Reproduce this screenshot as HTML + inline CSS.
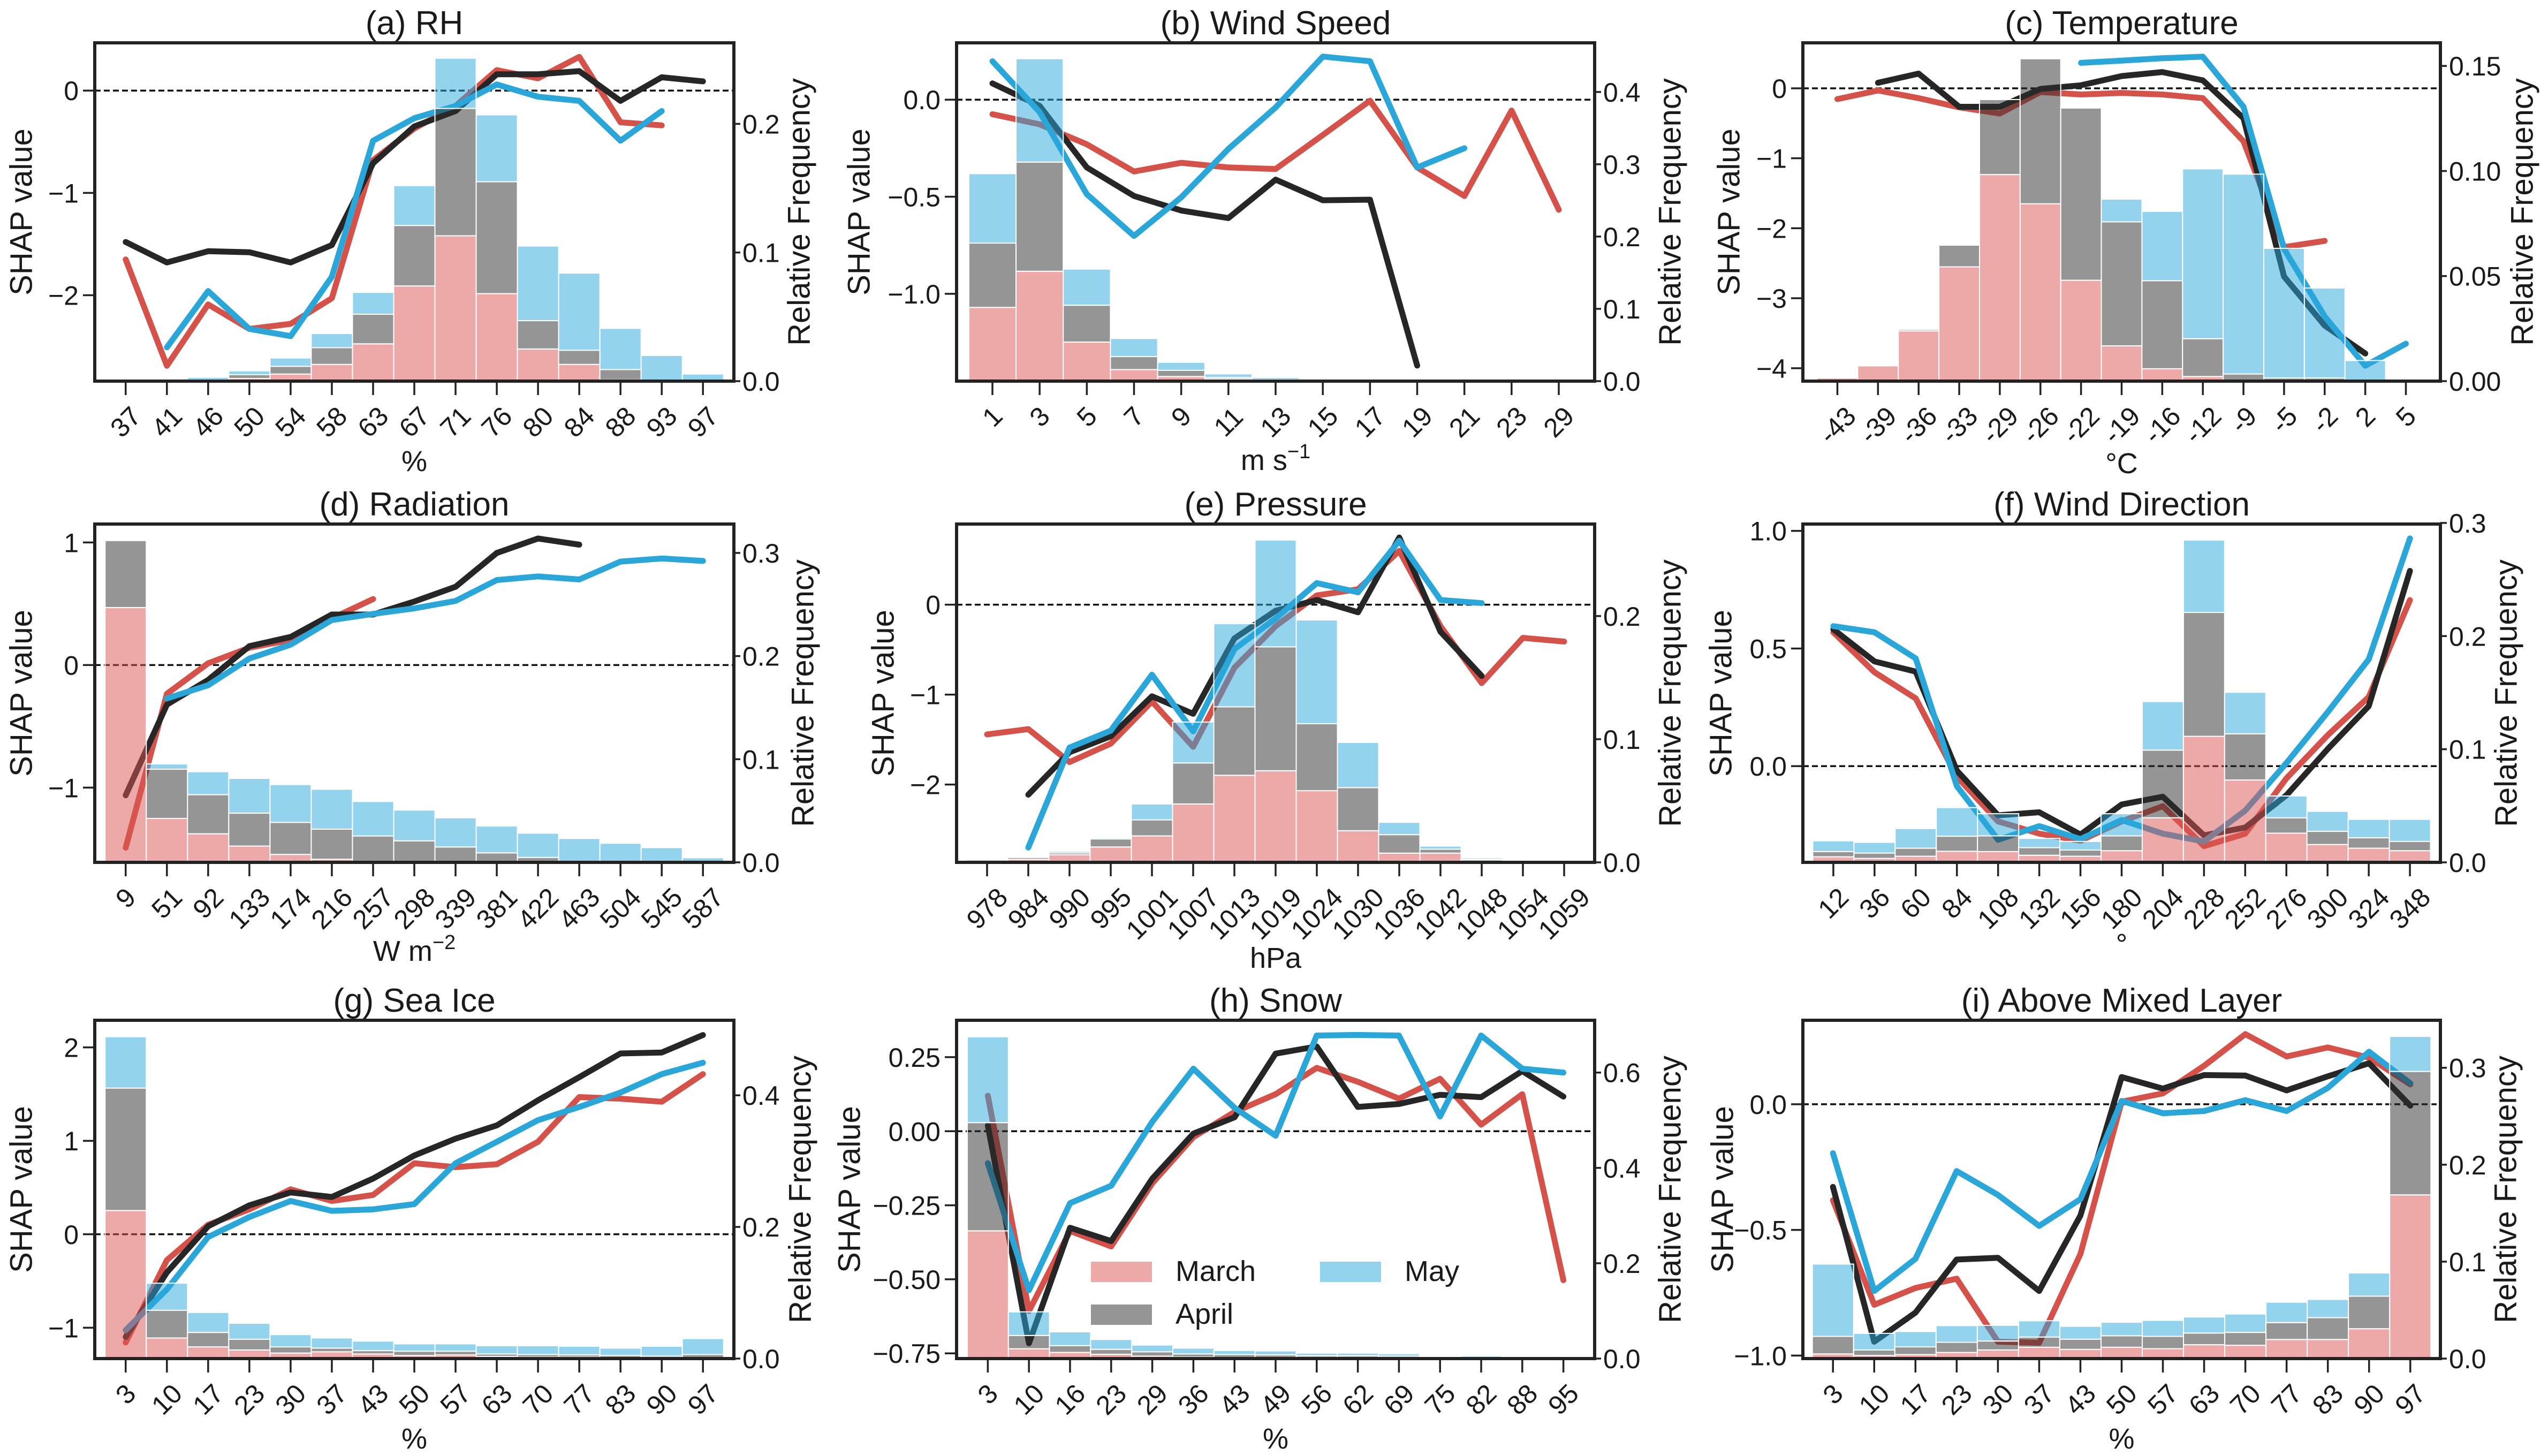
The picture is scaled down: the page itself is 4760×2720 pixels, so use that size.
<!DOCTYPE html>
<html><head><meta charset="utf-8">
<style>
html,body{margin:0;padding:0;background:#fff;}
svg{display:block;}
text{font-family:"Liberation Sans",Arial,sans-serif;fill:#1a1a1a;}
</style></head>
<body>
<svg id="fig" xmlns="http://www.w3.org/2000/svg" width="4760" height="2720" viewBox="0 0 4760 2720">
<rect x="0" y="0" width="4760" height="2720" fill="#fff"/>
</svg>
<script>
// ---------- (a) RH ----------
const aCats=["37","41","46","50","54","58","63","67","71","76","80","84","88","93","97"];
const aMar=[-1.65,-2.69,-2.09,-2.33,-2.28,-2.03,-0.68,-0.37,-0.15,0.2,0.12,0.33,-0.31,-0.34,null];
const aApr=[-1.48,-1.68,-1.57,-1.58,-1.68,-1.51,-0.71,-0.35,-0.2,0.16,0.16,0.19,-0.1,0.13,0.09];
const aMay=[null,-2.51,-1.96,-2.33,-2.40,-1.82,-0.49,-0.27,-0.15,0.06,-0.06,-0.1,-0.49,-0.2,null];
const aMarF=[0,0,0.001,0.002,0.0055,0.013,0.029,0.074,0.113,0.068,0.025,0.013,0.001,0,0];
const aAprF=[0,0,0.0005,0.005,0.0115,0.026,0.052,0.121,0.212,0.155,0.047,0.024,0.009,0.0005,0];
const aMayF=[0,0.001,0.003,0.008,0.018,0.037,0.069,0.152,0.251,0.207,0.105,0.084,0.041,0.020,0.0055];
const aYT=[-2,-1,0]; const aFT=[0,0.1,0.2];
// ---------- (b) Wind Speed ----------
const bCats=["1","3","5","7","9","11","13","15","17","19","21","23","29"];
const bMar=[-0.075,-0.127,-0.23,-0.37,-0.325,-0.349,-0.357,-0.182,-0.005,-0.349,-0.496,-0.056,-0.567];
const bApr=[0.084,-0.032,-0.349,-0.496,-0.571,-0.61,-0.412,-0.518,-0.515,-1.37,null,null,null];
const bMay=[0.198,-0.064,-0.487,-0.702,-0.503,-0.254,-0.04,0.222,0.198,-0.349,-0.25,null,null];
const bMarF=[0.102,0.152,0.054,0.016,0.0064,0.003,0,0,0,0,0,0,0];
const bAprF=[0.191,0.303,0.105,0.034,0.015,0.005,0.002,0,0,0,0,0,0];
const bMayF=[0.287,0.446,0.155,0.059,0.026,0.010,0.005,0.002,0.0005,0,0,0,0];
const bYT=[-1.0,-0.5,0.0]; const bFT=[0,0.1,0.2,0.3,0.4];
// ---------- (c) Temperature ----------
const cCats=["-43","-39","-36","-33","-29","-26","-22","-19","-16","-12","-9","-5","-2","2","5"];
const cMar=[-0.154,-0.031,-0.14,-0.273,-0.36,-0.053,-0.088,-0.066,-0.088,-0.141,-0.757,-2.27,-2.18,null,null];
const cApr=[null,0.079,0.21,-0.264,-0.264,-0.009,0.043,0.175,0.232,0.114,-0.427,-2.69,-3.39,-3.79,null];
const cMay=[null,null,null,null,null,null,0.364,0.395,0.43,0.452,-0.264,-2.295,-3.26,-3.965,-3.65];
const cMarF=[0.0015,0.0073,0.0239,0.0544,0.0983,0.0844,0.048,0.0168,0.0059,0.0022,0.0005,0,0,0,0];
const cAprF=[0,0.0078,0.0246,0.0647,0.134,0.1534,0.130,0.0758,0.0478,0.0202,0.0034,0.0015,0.0015,0,0];
const cMayF=[0,0,0,0,0,0,0.1305,0.0866,0.0808,0.101,0.0985,0.0632,0.0443,0.0098,0];
const cYT=[-4,-3,-2,-1,0]; const cFT=[0,0.05,0.10,0.15];
// ---------- (d) Radiation ----------
const dCats=["9","51","92","133","174","216","257","298","339","381","422","463","504","545","587"];
const dMar=[-1.49,-0.235,0.014,0.141,0.204,0.38,0.538,null,null,null,null,null,null,null,null];
const dApr=[-1.063,-0.323,-0.122,0.154,0.229,0.412,0.412,0.518,0.638,0.914,1.032,0.982,null,null,null];
const dMay=[null,-0.273,-0.165,0.053,0.166,0.367,0.417,0.462,0.523,0.693,0.723,0.698,0.844,0.869,0.849];
const dMarF=[0.247,0.0426,0.0277,0.0158,0.0077,0.003,0,0,0,0,0,0,0,0,0];
const dAprF=[0.312,0.0903,0.0656,0.0477,0.0387,0.0322,0.0256,0.0209,0.0149,0.0092,0.0048,0.0005,0,0,0];
const dMayF=[0,0.0954,0.0879,0.0814,0.0754,0.0709,0.059,0.0507,0.0432,0.0352,0.0283,0.0232,0.0185,0.0143,0.0045];
const dYT=[-1,0,1]; const dFT=[0,0.1,0.2,0.3];
// ---------- (e) Pressure ----------
const eCats=["978","984","990","995","1001","1007","1013","1019","1024","1030","1036","1042","1048","1054","1059"];
const eMar=[-1.442,-1.384,-1.75,-1.545,-1.077,-1.58,-0.701,-0.239,0.103,0.171,0.598,-0.239,-0.872,-0.369,-0.41];
const eApr=[null,-2.113,-1.641,-1.463,-1.019,-1.213,-0.376,-0.068,0.052,-0.085,0.746,-0.301,-0.793,null,null];
const eMay=[null,-2.70,-1.589,-1.401,-0.779,-1.408,-0.495,-0.154,0.24,0.137,0.711,0.052,0.017,null,null];
const eMarF=[0.002,0.0025,0.0062,0.0125,0.0215,0.0474,0.0707,0.0744,0.0582,0.0257,0.0075,0.0075,0.0025,0,0];
const eAprF=[0,0.004,0.0077,0.019,0.0345,0.0807,0.1263,0.175,0.1126,0.0607,0.0225,0.0107,0.002,0,0];
const eMayF=[0,0.0045,0.009,0.02,0.0474,0.1139,0.1938,0.2617,0.1968,0.0974,0.0325,0.0132,0.0037,0,0];
const eYT=[-2,-1,0]; const eFT=[0,0.1,0.2];
// ---------- (f) Wind Direction ----------
const fCats=["12","36","60","84","108","132","156","180","204","228","252","276","300","324","348"];
const fMar=[0.569,0.399,0.288,-0.045,-0.235,-0.287,-0.317,-0.235,-0.17,-0.34,-0.287,-0.052,0.131,0.294,0.706];
const fApr=[0.582,0.445,0.402,-0.019,-0.209,-0.196,-0.291,-0.163,-0.13,-0.294,-0.261,-0.124,0.072,0.255,0.83];
const fMay=[0.595,0.569,0.458,-0.085,-0.313,-0.255,-0.31,-0.229,-0.287,-0.32,-0.189,0.013,0.229,0.454,0.968];
const fMarF=[0.0049,0.0035,0.0054,0.0098,0.0095,0.0063,0.0054,0.0103,0.0394,0.1114,0.0728,0.0258,0.0158,0.0125,0.0103];
const fAprF=[0.0095,0.0082,0.0125,0.0231,0.0234,0.013,0.0109,0.0234,0.0992,0.2209,0.1136,0.0394,0.0274,0.0217,0.0185];
const fMayF=[0.019,0.0177,0.0299,0.0484,0.043,0.0212,0.0185,0.043,0.1421,0.2848,0.1503,0.0587,0.0451,0.038,0.038];
const fYT=[0.0,0.5,1.0]; const fFT=[0,0.1,0.2,0.3];
// ---------- (g) Sea Ice ----------
const gCats=["3","10","17","23","30","37","43","50","57","63","70","77","83","90","97"];
const gMar=[-1.157,-0.276,0.102,0.267,0.481,0.356,0.421,0.76,0.718,0.75,0.99,1.468,1.451,1.418,1.714];
const gApr=[-1.098,-0.407,0.086,0.31,0.448,0.399,0.596,0.843,1.023,1.165,1.434,1.681,1.935,1.945,2.132];
const gMay=[-1.026,-0.589,-0.029,0.185,0.356,0.251,0.267,0.323,0.76,0.99,1.221,1.362,1.517,1.714,1.836];
const gMarF=[0.225,0.0313,0.0178,0.0131,0.0084,0.0103,0.007,0.0047,0.0056,0.0033,0.0023,0.0023,0.0014,0.001,0.0014];
const gAprF=[0.411,0.0734,0.0397,0.0294,0.0178,0.0159,0.0121,0.0112,0.0112,0.007,0.0061,0.0056,0.0047,0.0037,0.0061];
const gMayF=[0.489,0.1145,0.0701,0.0537,0.0364,0.0313,0.0266,0.0224,0.0224,0.0196,0.0196,0.0187,0.0159,0.0187,0.0304];
const gYT=[-1,0,1,2]; const gFT=[0,0.2,0.4];
// ---------- (h) Snow ----------
const hCats=["3","10","16","23","29","36","43","49","56","62","69","75","82","88","95"];
const hMar=[0.12,-0.607,-0.337,-0.389,-0.176,-0.02,0.065,0.125,0.214,0.167,0.11,0.177,0.022,0.125,-0.503];
const hApr=[0.019,-0.716,-0.326,-0.371,-0.16,-0.008,0.047,0.262,0.286,0.082,0.092,0.123,0.115,0.203,0.117];
const hMay=[-0.108,-0.537,-0.243,-0.184,0.032,0.211,0.079,-0.015,0.323,0.325,0.323,0.05,0.323,0.211,0.198];
const hMarF=[0.268,0.0206,0.0129,0.009,0.0052,0.0032,0.002,0.0015,0.001,0.001,0.0008,0,0,0,0];
const hAprF=[0.495,0.0484,0.0271,0.0194,0.0142,0.0097,0.0084,0.0077,0.0058,0.0058,0.0052,0.002,0.0013,0.0005,0];
const hMayF=[0.675,0.098,0.0561,0.04,0.0284,0.0219,0.0168,0.0161,0.0116,0.0116,0.0103,0.0045,0.0052,0.0013,0.0005];
const hYT=[-0.75,-0.5,-0.25,0,0.25]; const hFT=[0,0.2,0.4,0.6];
// ---------- (i) Above Mixed Layer ----------
const iCats=["3","10","17","23","30","37","43","50","57","63","70","77","83","90","97"];
const iMar=[-0.382,-0.798,-0.731,-0.694,-0.945,-0.949,-0.596,0.01,0.043,0.153,0.279,0.19,0.226,0.185,0.079];
const iApr=[-0.329,-0.945,-0.829,-0.618,-0.611,-0.743,-0.443,0.108,0.062,0.116,0.114,0.055,0.111,0.163,-0.006];
const iMay=[-0.195,-0.743,-0.615,-0.266,-0.361,-0.484,-0.378,0.013,-0.036,-0.027,0.016,-0.027,0.065,0.209,0.083];
const iMarF=[0.0048,0.0032,0.0041,0.0063,0.0089,0.0117,0.0095,0.0117,0.0102,0.0143,0.0137,0.0197,0.0197,0.0308,0.1689];
const iAprF=[0.0229,0.0089,0.0121,0.0168,0.0181,0.0222,0.02,0.0235,0.0229,0.0263,0.027,0.0371,0.0422,0.0644,0.2962];
const iMayF=[0.0975,0.026,0.0279,0.034,0.0343,0.039,0.0333,0.0375,0.0394,0.0429,0.046,0.0581,0.061,0.0883,0.3324];
const iYT=[-1.0,-0.5,0.0]; const iFT=[0,0.1,0.2,0.3];

const NS="http://www.w3.org/2000/svg";
const svg=document.getElementById('fig');
const LINECOL=["#d4524a","#262626","#2aa6d8"];
const BARCOL=["#d9534f","#2b2b2b","#2aa7dc"];
const SER=["march","april","may"];

const panels=[
 {k:'a',title:'(a) RH',xl:'%',cats:aCats,shap:[aMar,aApr,aMay],freq:[aMarF,aAprF,aMayF],yl:[-2.84,0.467],yt:aYT,yd:0,fmax:0.263,ft:aFT,fd:1,fr:[177,80,1371,712],pad:0.75,ylx:-137,rlx:122,xlb:880},
 {k:'b',title:'(b) Wind Speed',xl:'ms',cats:bCats,shap:[bMar,bApr,bMay],freq:[bMarF,bAprF,bMayF],yl:[-1.45,0.293],yt:bYT,yd:1,fmax:0.468,ft:bFT,fd:1,fr:[1787,80,2979,712],pad:0.76,ylx:-182,rlx:141,xlb:878},
 {k:'c',title:'(c) Temperature',xl:'°C',cats:cCats,shap:[cMar,cApr,cMay],freq:[cMarF,cAprF,cMayF],yl:[-4.185,0.65],yt:cYT,yd:0,fmax:0.161,ft:cFT,fd:2,fr:[3368,80,4559,712],pad:0.85,ylx:-138,rlx:153,xlb:884},
 {k:'d',title:'(d) Radiation',xl:'Wm',cats:dCats,shap:[dMar,dApr,dMay],freq:[dMarF,dAprF,dMayF],yl:[-1.61,1.15],yt:dYT,yd:0,fmax:0.328,ft:dFT,fd:1,fr:[177,979,1371,1611],pad:0.75,ylx:-137,rlx:129,xlb:1795},
 {k:'e',title:'(e) Pressure',xl:'hPa',cats:eCats,shap:[eMar,eApr,eMay],freq:[eMarF,eAprF,eMayF],yl:[-2.865,0.896],yt:eYT,yd:0,fmax:0.2747,ft:eFT,fd:1,fr:[1787,979,2979,1611],pad:0.74,ylx:-137,rlx:141,xlb:1808},
 {k:'f',title:'(f) Wind Direction',xl:'°',cats:fCats,shap:[fMar,fApr,fMay],freq:[fMarF,fAprF,fMayF],yl:[-0.409,1.029],yt:fYT,yd:1,fmax:0.299,ft:fFT,fd:1,fr:[3368,979,4559,1611],pad:0.74,ylx:-153,rlx:123,xlb:1782},
 {k:'g',title:'(g) Sea Ice',xl:'%',cats:gCats,shap:[gMar,gApr,gMay],freq:[gMarF,gAprF,gMayF],yl:[-1.33,2.29],yt:gYT,yd:0,fmax:0.514,ft:gFT,fd:1,fr:[177,1906,1371,2538],pad:0.75,ylx:-137,rlx:124,xlb:2706},
 {k:'h',title:'(h) Snow',xl:'%',cats:hCats,shap:[hMar,hApr,hMay],freq:[hMarF,hAprF,hMayF],yl:[-0.7677,0.3746],yt:hYT,yd:2,fmax:0.7097,ft:hFT,fd:1,fr:[1787,1906,2979,2538],pad:0.76,ylx:-200,rlx:141,xlb:2706},
 {k:'i',title:'(i) Above Mixed Layer',xl:'%',cats:iCats,shap:[iMar,iApr,iMay],freq:[iMarF,iAprF,iMayF],yl:[-1.012,0.334],yt:iYT,yd:1,fmax:0.349,ft:iFT,fd:1,fr:[3368,1906,4559,2538],pad:0.73,ylx:-150,rlx:122,xlb:2706}
];

function el(tag,attrs,parent){const e=document.createElementNS(NS,tag);for(const k in attrs)e.setAttribute(k,attrs[k]);(parent||svg).appendChild(e);return e;}
function fmt(v,d){const s=Math.abs(v).toFixed(d);return (v<-1e-9?'\u2212':'')+s;}

panels.forEach(p=>{
 const [x0,y0,x1,y1]=p.fr; const n=p.cats.length;
 const step=(x1-x0)/(n-1+2*p.pad);
 const sx=i=>x0+(i+p.pad)*step;
 const sy=v=>y1-(v-p.yl[0])/(p.yl[1]-p.yl[0])*(y1-y0);
 const fy=f=>y1-f/p.fmax*(y1-y0);
 const g=el('g',{});
 
 
 const cp=el('clipPath',{id:'clip'+p.k},g);
 el('rect',{x:x0,y:y0,width:x1-x0,height:y1-y0},cp);
 const zl=el('line',{x1:x0,x2:x1,y1:sy(0),y2:sy(0),stroke:'#111','stroke-width':3.5,'stroke-dasharray':'11,6'},g);
 
 
 p.shap.forEach((arr,s)=>{
  let d='',pen=false;
  arr.forEach((v,i)=>{ if(v===null){pen=false;return;} d+=(pen?'L':'M')+sx(i).toFixed(1)+','+sy(v).toFixed(1); pen=true;});
  const pa=el('path',{d:d,fill:'none',stroke:LINECOL[s],'stroke-width':11,'stroke-linejoin':'round','stroke-linecap':'round','clip-path':'url(#clip'+p.k+')'},g);
  
  
 });
 for(let i=0;i<n;i++){
  const items=[0,1,2].map(s=>({s:s,v:p.freq[s][i]})).sort((a,b)=>a.v-b.v);
  let prev=0;
  items.forEach(it=>{
   if(it.v>prev){
    const r=el('rect',{x:sx(i)-step/2,y:fy(it.v),width:step,height:fy(prev)-fy(it.v),fill:BARCOL[it.s],'fill-opacity':0.5,stroke:'#fff','stroke-width':2},g);
    
    
    prev=it.v;
   }
  });
 }
 const fr=el('rect',{x:x0,y:y0,width:x1-x0,height:y1-y0,fill:'none',stroke:'#222','stroke-width':6},g);
 
 
 p.cats.forEach((c,i)=>{
  const x=sx(i);
  el('line',{x1:x,x2:x,y1:y1,y2:y1+26,stroke:'#222','stroke-width':3.5},g);
  const fs=50; let L=0; for(const ch of c) L+= (ch==='-'?0.333:0.556)*fs;
  const h=0.72*fs; const cy=y1+44+(L+h)/(2*Math.SQRT2);
  const t=el('text',{x:x,y:cy,'font-size':fs,'text-anchor':'middle','dominant-baseline':'central',transform:'rotate(-45 '+x+' '+cy+')'},g);
  t.textContent=c;
  
  
 });
 p.yt.forEach(v=>{
  const y=sy(v);
  el('line',{x1:x0-22,x2:x0,y1:y,y2:y,stroke:'#222','stroke-width':3.5},g);
  const t=el('text',{x:x0-30,y:y+18,'font-size':50,'text-anchor':'end'},g);
  t.textContent=fmt(v,p.yd);
  
  
 });
 p.ft.forEach(v=>{
  const y=fy(v);
  el('line',{x1:x1,x2:x1+12,y1:y,y2:y,stroke:'#222','stroke-width':3.5},g);
  const t=el('text',{x:x1+16,y:y+18,'font-size':50,'text-anchor':'start'},g);
  t.textContent=v.toFixed(p.fd);
  
  
 });
 const tt=el('text',{x:(x0+x1)/2,y:y0-16,'font-size':62,'text-anchor':'middle'},g);
 tt.textContent=p.title;
 
 
 const cyy=(y0+y1)/2;
 const yl=el('text',{x:x0+p.ylx,y:cyy,'font-size':58,'text-anchor':'middle','dominant-baseline':'central',transform:'rotate(-90 '+(x0+p.ylx)+' '+cyy+')'},g);
 yl.textContent='SHAP value';
 
 
 const rl=el('text',{x:x1+p.rlx,y:cyy,'font-size':58,'text-anchor':'middle','dominant-baseline':'central',transform:'rotate(-90 '+(x1+p.rlx)+' '+cyy+')'},g);
 rl.textContent='Relative Frequency';
 
 
 const xl=el('text',{x:(x0+x1)/2,y:p.xlb,'font-size':54,'text-anchor':'middle'},g);
 if(p.xl==='ms'){xl.innerHTML='m s<tspan dy="-22" font-size="38">\u22121</tspan>';}
 else if(p.xl==='Wm'){xl.innerHTML='W m<tspan dy="-22" font-size="38">\u22122</tspan>';}
 else xl.textContent=p.xl;
 
 
});

const legItems=[["March",0,2038,2357],["April",1,2038,2437],["May",2,2466,2357]];
legItems.forEach(li=>{
 const r=el('rect',{x:li[2],y:li[3],width:114,height:38,fill:BARCOL[li[1]],'fill-opacity':0.5});
 
 
 const t=el('text',{x:li[2]+158,y:li[3]+36,'font-size':54});
 t.textContent=li[0];
 
 
});
</script>
</body></html>
